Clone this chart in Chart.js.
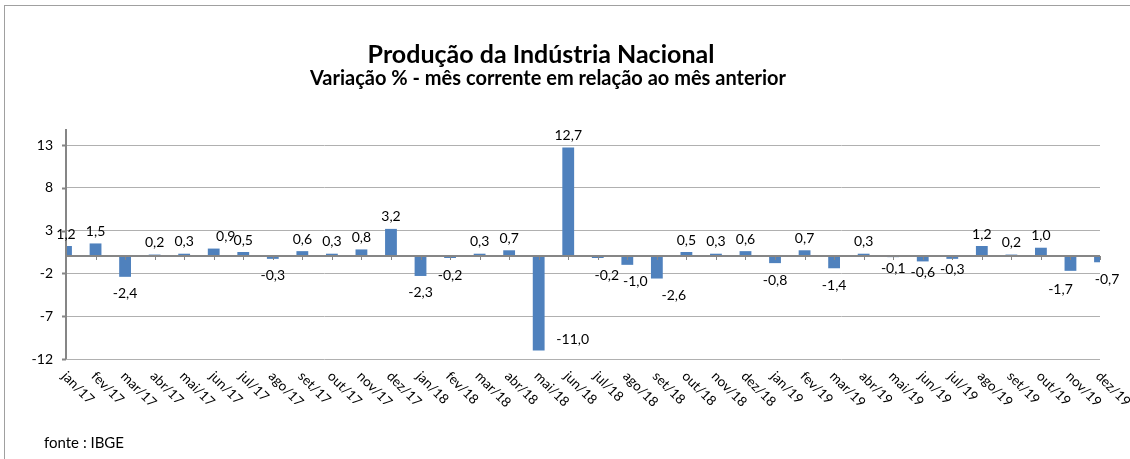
<!DOCTYPE html>
<html>
<head>
<meta charset="utf-8">
<script src="https://cdn.jsdelivr.net/npm/chart.js@4.4.1/dist/chart.umd.min.js"></script>
<style>
  html, body { margin: 0; padding: 0; background: #fff; }
  #wrap { width: 1130px; height: 459px; }
</style>
</head>
<body>
<div id="wrap"><canvas id="bar-chart"></canvas></div>
<script>
// variação % mês contra mês anterior (IBGE)
const meses = ['jan/17', 'fev/17', 'mar/17', 'abr/17', 'mai/17', 'jun/17', 'jul/17', 'ago/17', 'set/17', 'out/17', 'nov/17', 'dez/17',
	'jan/18', 'fev/18', 'mar/18', 'abr/18', 'mai/18', 'jun/18', 'jul/18', 'ago/18', 'set/18', 'out/18', 'nov/18', 'dez/18',
	'jan/19', 'fev/19', 'mar/19', 'abr/19', 'mai/19', 'jun/19', 'jul/19', 'ago/19', 'set/19', 'out/19', 'nov/19', 'dez/19'];
const variacao = [1.2, 1.5, -2.4, 0.2, 0.3, 0.9, 0.5, -0.3, 0.6, 0.3, 0.8, 3.2,
	-2.3, -0.2, 0.3, 0.7, -11.0, 12.7, -0.2, -1.0, -2.6, 0.5, 0.3, 0.6,
	-0.8, 0.7, -1.4, 0.3, -0.1, -0.6, -0.3, 1.2, 0.2, 1.0, -1.7, -0.7];
const yTicks = [-12, -7, -2, 3, 8, 13];

const titulo = 'Produção da Indústria Nacional';
const subtitulo = 'Variação % - mês corrente em relação ao mês anterior';
const fonte = 'fonte : IBGE';

const FONT = 'Lato, "Open Sans", sans-serif';

// small nudges where excel moved labels to avoid overlaps
const nudges = {
	'jun/17': [12, 0], 'jul/18': [9, 0], 'ago/18': [8, 0], 'set/18': [17, 0],
	'mai/18': [34, -28], 'mai/19': [0, -6], 'jun/19': [0, -6], 'jul/19': [0, -6],
	'nov/19': [-10, 2], 'dez/19': [7, 0]
};

const extras = {
	id: 'extras',
	afterDraw(chart) {
		const ctx = chart.ctx;
		const area = chart.chartArea;
		const xs = chart.scales.x;
		const ys = chart.scales.y;
		ctx.save();

		// outer frame
		ctx.strokeStyle = '#a0a0a0';
		ctx.lineWidth = 1;
		ctx.strokeRect(4.5, 5.5, 1300, 1000);

		// y axis line + ticks
		ctx.strokeStyle = '#868686';
		ctx.lineWidth = 2;
		ctx.beginPath();
		ctx.moveTo(area.left, 129);
		ctx.lineTo(area.left, area.bottom);
		yTicks.forEach(function (t) {
			const py = Math.round(ys.getPixelForValue(t)) + 0.5;
			ctx.moveTo(area.left - 4, py);
			ctx.lineTo(area.left, py);
		});
		ctx.stroke();

		// zero line with tick marks
		const y0 = Math.round(ys.getPixelForValue(0));
		ctx.beginPath();
		ctx.moveTo(area.left, y0);
		ctx.lineTo(area.right, y0);
		ctx.stroke();
		ctx.lineWidth = 1;
		ctx.beginPath();
		meses.forEach(function (m, i) {
			const px = Math.round(xs.getPixelForValue(i)) + 0.5;
			ctx.moveTo(px, y0);
			ctx.lineTo(px, y0 + 4);
		});
		ctx.stroke();

		// rotated category labels
		ctx.fillStyle = '#000';
		ctx.font = '13.5px ' + FONT;
		ctx.textAlign = 'left';
		ctx.textBaseline = 'middle';
		meses.forEach(function (m, i) {
			const px = xs.getPixelForValue(i);
			ctx.save();
			ctx.translate(px - 2, 374);
			ctx.rotate(Math.PI / 4);
			ctx.fillText(m, 0, 0);
			ctx.restore();
		});

		// data labels
		ctx.font = '14px ' + FONT;
		ctx.textAlign = 'center';
		const meta = chart.getDatasetMeta(0);
		meta.data.forEach(function (bar, i) {
			const v = variacao[i];
			const n = nudges[meses[i]] || [0, 0];
			const ly = v >= 0 ? bar.y - 12 : bar.y + 17;
			ctx.fillText(v.toFixed(1).replace('.', ','), bar.x + n[0], ly + n[1]);
		});

		// titles and source
		ctx.font = 'bold 25px ' + FONT;
		ctx.textBaseline = 'alphabetic';
		ctx.fillText(titulo, 541, 63);
		ctx.font = 'bold 20px ' + FONT;
		ctx.fillText(subtitulo, 548, 85);
		ctx.textAlign = 'left';
		ctx.font = '15px ' + FONT;
		ctx.fillText(fonte, 44, 448);
		ctx.restore();
	}
};

new Chart(document.getElementById('bar-chart'), {
	type: 'bar',
	data: {
		labels: meses,
		datasets: [{
			data: variacao,
			backgroundColor: '#4f81bd',
			borderWidth: 0,
			categoryPercentage: 1,
			barPercentage: 0.4
		}]
	},
	options: {
		responsive: true,
		maintainAspectRatio: false,
		animation: false,
		layout: { padding: { left: 0, right: 30, top: 145, bottom: 100 } },
		plugins: {
			legend: { display: false },
			tooltip: { enabled: false }
		},
		scales: {
			x: {
				display: false,
				offset: false
			},
			y: {
				min: -12,
				max: 13,
				afterBuildTicks: function (scale) {
					scale.ticks = yTicks.map(function (v) { return { value: v }; });
				},
				afterFit: function (scale) { scale.width = 66; },
				border: { display: false },
				grid: { color: '#b0b0b0', lineWidth: 1, drawTicks: false },
				ticks: { color: '#000', padding: 13, font: { family: FONT, size: 14 } }
			}
		}
	},
	plugins: [extras]
});
</script>
</body>
</html>
